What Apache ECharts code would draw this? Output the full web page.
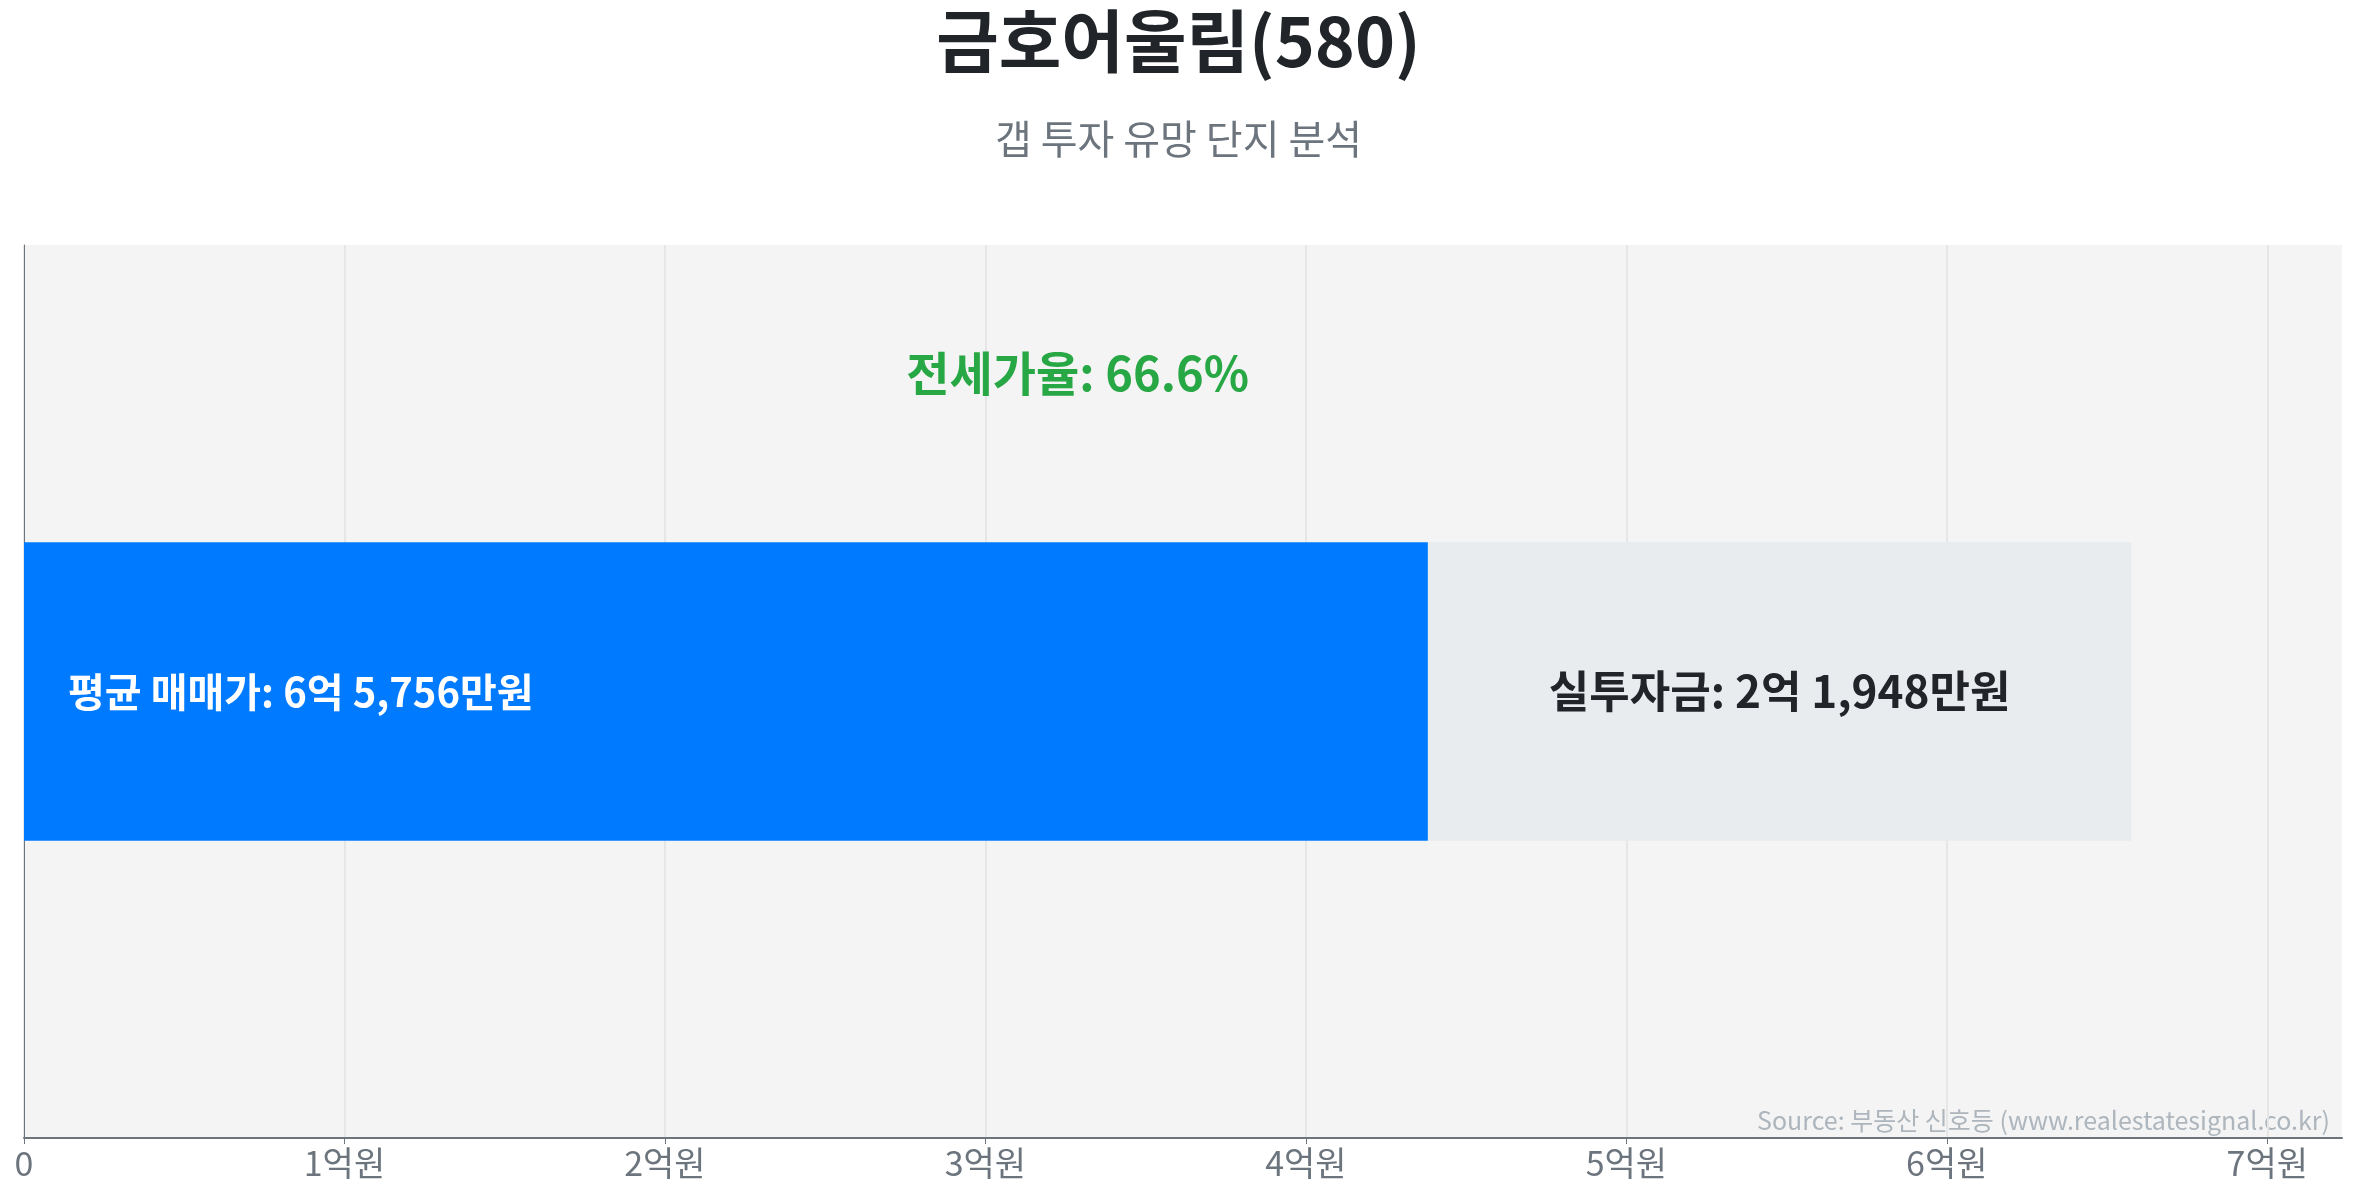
<!DOCTYPE html>
<html>
<head>
<meta charset="utf-8">
<script src="https://cdn.jsdelivr.net/npm/echarts@6/dist/echarts.min.js"></script>
<style>
  html, body { margin: 0; padding: 0; background: #fff; }
  #main { width: 2357px; height: 1201px; }
</style>
</head>
<body>
<div id="main"></div>
<script>
// 단위: 만원
var danjiName = ['금호어울림(580)'];
var maemaePrice = [65756];   // 평균 매매가
var jeonsePrice = [43808];   // 전세가
var gapMoney = [21948];      // 실투자금
var jeonseRate = [66.6];     // 전세가율 %

var FONT = "'Noto Sans CJK KR', 'Noto Sans', sans-serif";

function eok(v) {
  var e = Math.floor(v / 10000);
  var m = v % 10000;
  return e + '억 ' + m.toLocaleString('en-US') + '만원';
}

var chart = echarts.init(document.getElementById('main'));

var option = {
  backgroundColor: '#ffffff',
  textStyle: { fontFamily: FONT },
  title: [
    {
      text: danjiName[0],
      left: 'center',
      top: 2,
      textStyle: { fontSize: 68, fontWeight: 'bold', color: '#212529', fontFamily: FONT }
    },
    {
      text: '갭 투자 유망 단지 분석',
      left: 'center',
      top: 114,
      textStyle: { fontSize: 40, fontWeight: 'normal', color: '#6c757d', fontFamily: FONT }
    }
  ],
  grid: {
    left: 24,
    right: 15,
    top: 245,
    bottom: 63,
    show: true,
    backgroundColor: '#f4f4f4',
    borderWidth: 0
  },
  xAxis: {
    type: 'value',
    min: 0,
    max: maemaePrice[0] * 1.1,
    interval: 10000,
    axisLine: { show: true, lineStyle: { color: '#6c757d', width: 2 } },
    axisTick: { show: true, length: 6, lineStyle: { color: '#6c757d' } },
    splitLine: { show: true, showMaxLine: false, lineStyle: { color: '#e6e6e6', width: 2 } },
    axisLabel: {
      showMaxLabel: false,
      margin: 8,
      fontSize: 34,
      color: '#6c757d',
      fontFamily: FONT,
      formatter: function (v) { return v === 0 ? '0' : (v / 10000) + '억원'; }
    }
  },
  yAxis: {
    type: 'category',
    data: danjiName,
    axisLine: { show: true, lineStyle: { color: '#6c757d', width: 1 } },
    axisTick: { show: false },
    axisLabel: { show: false },
    splitLine: { show: false }
  },
  series: [
    {
      name: '전세가',
      type: 'bar',
      stack: 'price',
      barWidth: '33.4%',
      data: jeonsePrice,
      itemStyle: { color: '#007bff' },
      label: {
        show: true,
        position: 'insideLeft',
        distance: 44,
        color: '#ffffff',
        fontSize: 40,
        fontWeight: 'bold',
        fontFamily: FONT,
        formatter: function () { return '평균 매매가: ' + eok(maemaePrice[0]); }
      },
      markPoint: {
        symbol: 'circle',
        symbolSize: 1,
        itemStyle: { color: 'rgba(0,0,0,0)' },
        label: {
          show: true,
          position: 'inside',
          offset: [0, -318],
          color: '#28a745',
          fontSize: 47,
          fontWeight: 'bold',
          fontFamily: FONT,
          formatter: function () { return '전세가율: ' + jeonseRate[0] + '%'; }
        },
        data: [{ coord: [maemaePrice[0] / 2, 0] }]
      }
    },
    {
      name: '실투자금',
      type: 'bar',
      stack: 'price',
      data: gapMoney,
      itemStyle: { color: '#e9ecef' },
      label: {
        show: true,
        position: 'inside',
        color: '#212529',
        fontSize: 44,
        fontWeight: 'bold',
        fontFamily: FONT,
        formatter: function () { return '실투자금: ' + eok(gapMoney[0]); }
      }
    }
  ],
  graphic: [
    {
      type: 'text',
      right: 27,
      top: 1108,
      style: {
        text: 'Source: 부동산 신호등 (www.realestatesignal.co.kr)',
        fontSize: 25,
        fill: '#adb5bd',
        fontFamily: FONT
      }
    }
  ]
};

chart.setOption(option);
</script>
</body>
</html>
